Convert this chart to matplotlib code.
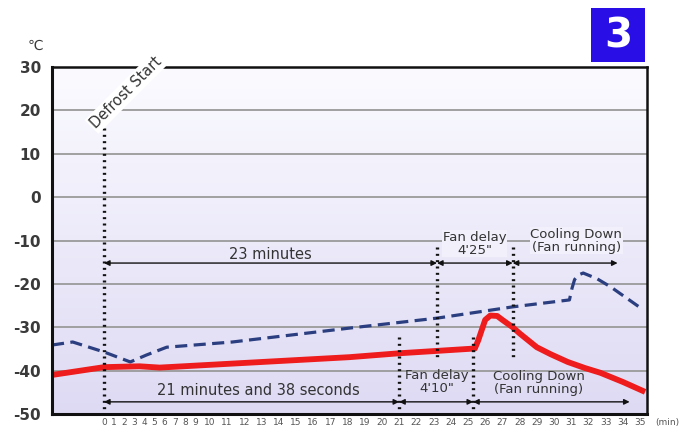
import numpy as np
import matplotlib
matplotlib.use('Agg')
import matplotlib.pyplot as plt
from matplotlib.patches import Rectangle

plt.rcParams['font.family'] = ['DejaVu Sans', 'Noto Sans CJK JP']
plt.rcParams['axes.unicode_minus'] = False

# ---------------- data (minutes, degC) ----------------
blue_t = [-5.15, -3.1, 0.0, 2.6, 4.2, 6.2, 11.3, 18.1, 23.2, 27.6, 30.9, 31.05, 31.2, 31.45, 31.7, 32.5, 33.3, 35.2]
blue_v = [-34.1, -33.4, -35.7, -38.0, -36.4, -34.6, -33.4, -30.2, -27.9, -25.3, -23.7, -21.0, -19.0, -17.9, -17.5, -18.8, -20.7, -26.0]

red_t = [-5.15, 0.0, 3.5, 5.5, 18.1, 21.0, 25.4, 25.6, 26.0, 26.3, 26.7, 27.0, 27.6, 28.0, 29.0, 29.8, 30.8, 31.8, 32.7, 34.0, 35.3]
red_v = [-41.0, -39.2, -39.0, -39.3, -36.9, -36.0, -34.9, -33.0, -28.3, -27.3, -27.4, -28.3, -30.0, -31.4, -34.6, -36.2, -38.0, -39.4, -40.5, -42.6, -44.9]

y_ticks = [30, 20, 10, 0, -10, -20, -30, -40, -50]
x_ticks = list(range(0, 36))

defrost_start = 0.0
upper_marks = [23.2, 27.6]      # 23 min, +4'25"
lower_marks = [21.0, 25.3]      # 21'38", +4'10"
upper_arrow_end = 33.7
lower_arrow_end = 34.4

# ---------------- axis layout (original axis is compressed for 0-9) ----------------
knot_min = [-10.0, 0.0, 9.0, 10.0, 40.0]
knot_pos = [-101.0, 0.0, 91.0, 106.0, 106.0 + 30 * 17.2]

def fwd(m):
    return np.interp(m, knot_min, knot_pos)

def inv(p):
    return np.interp(p, knot_pos, knot_min)

fig = plt.figure(figsize=(6.99, 4.32), dpi=100)
ax = fig.add_axes([52 / 699, 18 / 432, 595 / 699, 347 / 432])

# background gradient
grad = np.linspace(0, 1, 256).reshape(-1, 1)
top = np.array([251, 251, 255]) / 255
bot = np.array([222, 218, 244]) / 255
img = top[None, None, :] * (1 - grad[:, :, None]) + bot[None, None, :] * grad[:, :, None]
ax.imshow(img, extent=[0, 1, 0, 1], transform=ax.transAxes, aspect='auto', zorder=0)

ax.set_xscale('function', functions=(fwd, inv))
ax.set_xlim(-5.15, 35.41)
ax.set_ylim(-50, 30)

# grid
for yv in y_ticks[1:-1]:
    ax.axhline(yv, color='#9a9a9a', lw=1.3, zorder=1)

# curves
ax.plot(blue_t, blue_v, color='#2b3f80', lw=2.3, dashes=(3.8, 2.0), zorder=4, solid_joinstyle='round')
ax.plot(red_t, red_v, color='#ee1c1c', lw=4.2, zorder=5, solid_capstyle='butt', solid_joinstyle='round')

dot_kw = dict(color='#111111', lw=2.4, linestyle=(0, (0.6, 1.3)), zorder=6)
ax.plot([defrost_start, defrost_start], [16.0, -50], **dot_kw)
for m in upper_marks:
    ax.plot([m, m], [-11.5, -37.2], **dot_kw)
for m in lower_marks:
    ax.plot([m, m], [-32.3, -50.5], **dot_kw, clip_on=False)

arr_kw = dict(arrowstyle='<|-|>', color='#111111', lw=1.0, mutation_scale=8, shrinkA=0, shrinkB=0)
up_pts = [defrost_start] + upper_marks + [upper_arrow_end]
lo_pts = [defrost_start] + lower_marks + [lower_arrow_end]
for a, b in zip(up_pts[:-1], up_pts[1:]):
    ax.annotate('', xy=(b, -15.2), xytext=(a, -15.2), arrowprops=arr_kw, zorder=7)
for a, b in zip(lo_pts[:-1], lo_pts[1:]):
    ax.annotate('', xy=(b, -47.2), xytext=(a, -47.2), arrowprops=arr_kw, zorder=7)

tc = '#333333'
bg = dict(boxstyle='square,pad=0.05', fc='#f1f0fb', ec='none')
ax.text(13.5, -13.3, '23 minutes', ha='center', va='center', fontsize=10.5, color=tc, zorder=8)
ax.text(12.8, -44.6, '21 minutes and 38 seconds', ha='center', va='center', fontsize=10.5, color=tc, zorder=8)
ax.text(25.4, -10.7, 'Fan delay\n4\'25"', ha='center', va='center', fontsize=9.5, color=tc,
        linespacing=1.0, zorder=8, bbox=bg)
ax.text(31.3, -10.0, 'Cooling Down\n(Fan running)', ha='center', va='center', fontsize=9.5, color=tc,
        linespacing=1.0, zorder=8, bbox=bg)
ax.text(23.2, -42.6, 'Fan delay\n4\'10"', ha='center', va='center', fontsize=9.5, color=tc,
        linespacing=1.0, zorder=8)
ax.text(29.1, -42.9, 'Cooling Down\n(Fan running)', ha='center', va='center', fontsize=9.5, color=tc,
        linespacing=1.0, zorder=8)
ax.text(2.2, 24.2, 'Defrost Start', rotation=45, ha='center', va='center', fontsize=10.5, color=tc,
        zorder=12, clip_on=False, bbox=dict(boxstyle='square,pad=0.15', fc='white', ec='none'))

# ticks
ax.set_yticks(y_ticks)
ax.set_yticklabels([str(v) for v in y_ticks], fontsize=11, fontweight='bold', color='#3a3a3a')
ax.set_xticks(x_ticks)
ax.set_xticklabels([str(v) for v in x_ticks], fontsize=6.5, color='#555555')
ax.tick_params(axis='y', length=0, pad=8)
ax.tick_params(axis='x', length=0, pad=3)
ax.xaxis.set_minor_locator(matplotlib.ticker.NullLocator())

for s in ax.spines.values():
    s.set_color('#111111')
    s.set_linewidth(1.8)
    s.set_zorder(10)
ax.spines['left'].set_linewidth(2.2)
ax.spines['bottom'].set_linewidth(2.2)

fig.text(655 / 699, 1 - 422 / 432, '(min)', fontsize=6.5, color='#555555', ha='left', va='center')
fig.text(35 / 699, 1 - 46 / 432, '\u2103', fontsize=10, color='#3a3a3a', ha='center', va='center')

# badge
fig.patches.append(Rectangle((591 / 699, 1 - 62 / 432), 54 / 699, 54 / 432,
                             transform=fig.transFigure, fc='#2a0ee6', ec='none'))
fig.text(618 / 699, 1 - 36 / 432, '3', fontsize=29, fontweight='bold', color='white',
         ha='center', va='center')

fig.savefig('out.png', dpi=100)
